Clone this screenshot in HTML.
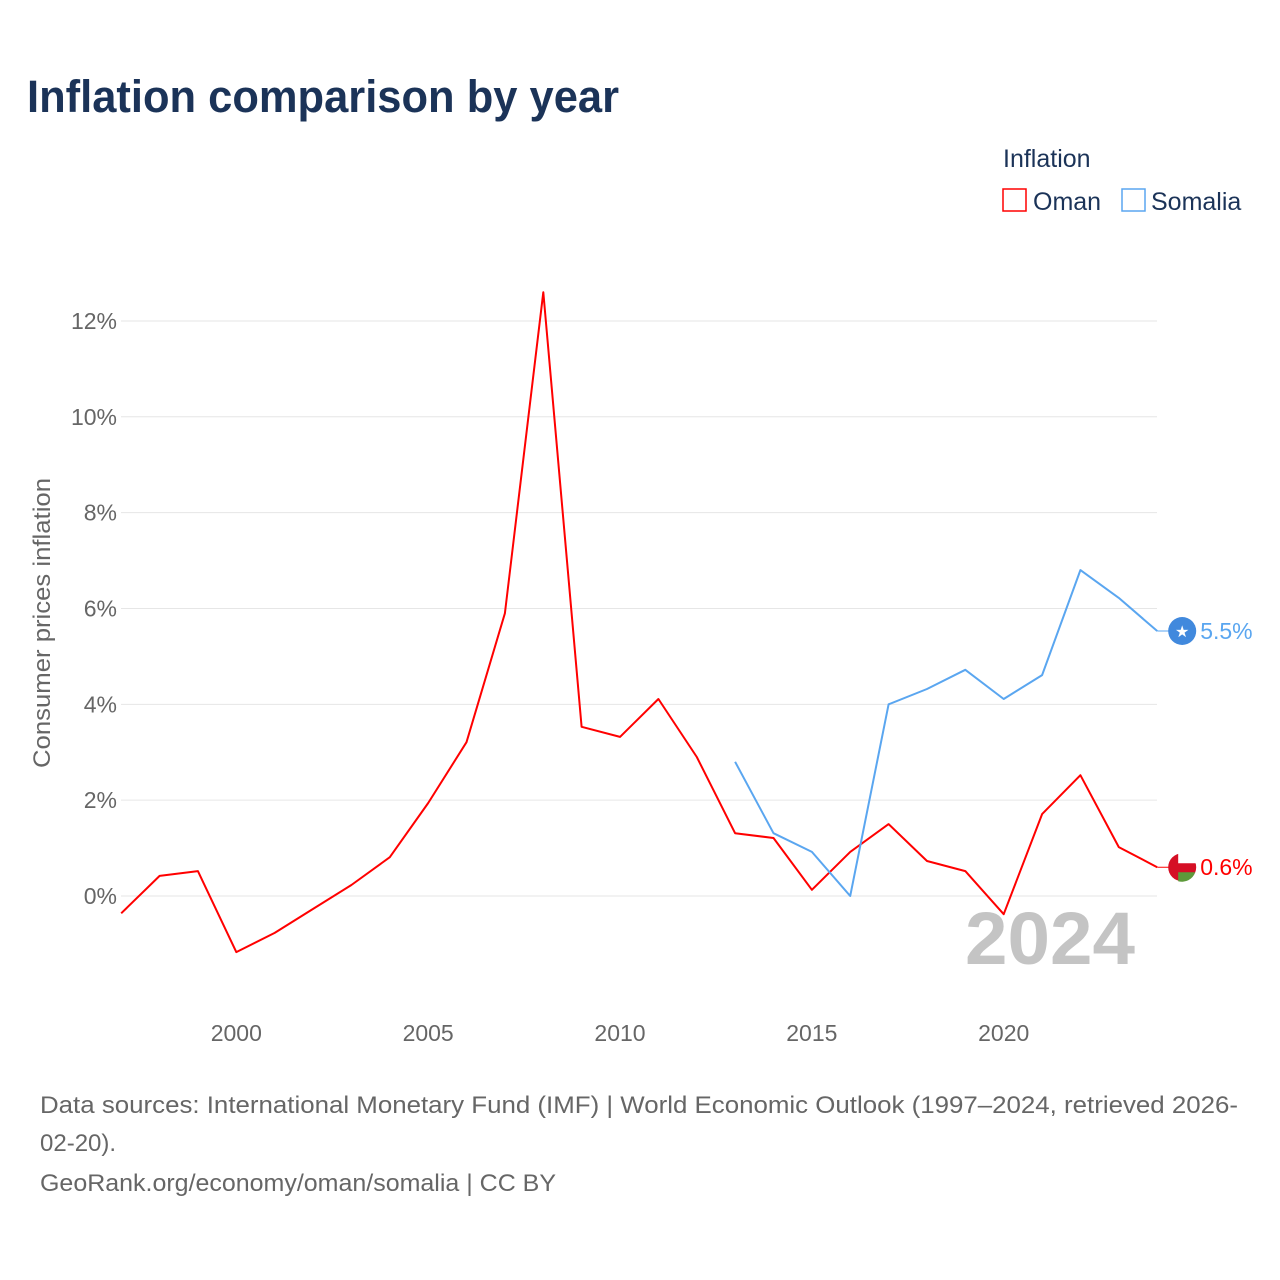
<!DOCTYPE html>
<html><head><meta charset="utf-8"><style>
body{margin:0;background:#fff;font-family:"Liberation Sans",sans-serif;}
#wrap{position:relative;width:1280px;height:1280px;overflow:hidden;}
</style></head><body>
<div id="wrap">
<svg id="chart" width="1280" height="1280" xmlns="http://www.w3.org/2000/svg">
<text x="27" y="112" font-size="45" font-weight="bold" fill="#1b3358" textLength="592" lengthAdjust="spacingAndGlyphs">Inflation comparison by year</text>
<g>
<text x="1003" y="167" font-size="25" fill="#1b3358">Inflation</text>
<rect x="1003" y="189" width="23" height="22" fill="none" stroke="#ff0000" stroke-width="1.5"/>
<text x="1033" y="210" font-size="25" fill="#1b3358">Oman</text>
<rect x="1122" y="189" width="23" height="22" fill="none" stroke="#5aa6f0" stroke-width="1.5"/>
<text x="1151" y="210" font-size="25" fill="#1b3358">Somalia</text>
</g>
<g id="grid"></g>
<g id="yticks"></g>
<g id="xticks"></g>
<text transform="translate(50,623) rotate(-90)" text-anchor="middle" font-size="24" fill="#666" textLength="290" lengthAdjust="spacingAndGlyphs">Consumer prices inflation</text>
<text x="1135" y="964" text-anchor="end" font-size="74" font-weight="bold" fill="#c4c4c4" textLength="170" lengthAdjust="spacingAndGlyphs">2024</text>
<g id="series"></g>
<text x="40" y="1113" font-size="24" fill="#666" textLength="1198" lengthAdjust="spacingAndGlyphs">Data sources: International Monetary Fund (IMF) | World Economic Outlook (1997–2024, retrieved 2026-</text>
<text x="40" y="1151" font-size="24" fill="#666">02-20).</text>
<text x="40" y="1191" font-size="24" fill="#666" textLength="516" lengthAdjust="spacingAndGlyphs">GeoRank.org/economy/oman/somalia | CC BY</text>
</svg>
</div>
<script>
const years = [1997,1998,1999,2000,2001,2002,2003,2004,2005,2006,2007,2008,2009,2010,2011,2012,2013,2014,2015,2016,2017,2018,2019,2020,2021,2022,2023,2024];
const omanValues = [-0.36,0.42,0.52,-1.17,-0.77,-0.27,0.23,0.81,1.94,3.21,5.9,12.6,3.53,3.32,4.11,2.9,1.31,1.21,0.13,0.92,1.5,0.73,0.52,-0.38,1.71,2.52,1.02,0.6];
const somaliaYears = [2013,2014,2015,2016,2017,2018,2019,2020,2021,2022,2023,2024];
const somaliaValues = [2.8,1.31,0.92,0,4.0,4.32,4.72,4.11,4.61,6.8,6.22,5.53];
const yTicks = [0,2,4,6,8,10,12];
const xTicks = [2000,2005,2010,2015,2020];
const NS="http://www.w3.org/2000/svg";
function xs(y){return 121.2+(y-1997)*38.37;}
function ys(v){return 896-v*47.92;}
function mk(tag,attrs,parent){const e=document.createElementNS(NS,tag);for(const k in attrs)e.setAttribute(k,attrs[k]);parent.appendChild(e);return e;}
const grid=document.getElementById('grid'),yt=document.getElementById('yticks'),xt=document.getElementById('xticks'),ser=document.getElementById('series');
yTicks.forEach(v=>{
 const l=mk('line',{x1:121,x2:1157,y1:ys(v),y2:ys(v),stroke:'#e6e6e6','stroke-width':1},grid);
 
 
 const t=mk('text',{x:117,y:ys(v)+8,'text-anchor':'end','font-size':23,fill:'#666'},yt);
 t.textContent=v+'%';
 
 
});
xTicks.forEach(y=>{
 const t=mk('text',{x:xs(y),y:1041,'text-anchor':'middle','font-size':23,fill:'#666'},xt);
 t.textContent=y;
 
 
});
function line(xv,vals,color,name,markColor){
 const d=vals.map((v,i)=>(i?'L':'M')+xs(xv[i]).toFixed(1)+','+ys(v).toFixed(1)).join(' ');
 const p=mk('path',{d:d,fill:'none',stroke:color,'stroke-width':2,'stroke-linejoin':'round'},ser);
 
 
 const lx=xs(xv[xv.length-1]),ly=ys(vals[vals.length-1]);
 const c=mk('line',{x1:lx,y1:ly,x2:lx+25,y2:ly,stroke:color,'stroke-width':1},ser);
 
 
 const m=mk('circle',{cx:lx+25,cy:ly,r:14,fill:markColor},ser);
 
 
 const t=mk('text',{x:lx+43,y:ly+8,'font-size':23,fill:color},ser);
 t.textContent=vals[vals.length-1].toFixed(1)+'%';
 
 
 return [lx+25,ly];
}
const o=line(years,omanValues,'#ff0000','oman','#d50f25');
const ow=mk('path',{d:`M${o[0]-4},${o[1]-14} A14,14 0 0 1 ${o[0]+14},${o[1]-4} L${o[0]-4},${o[1]-4} Z`,fill:'#fff'},ser);


const og=mk('path',{d:`M${o[0]-4},${o[1]+5} L${o[0]+13},${o[1]+5} A14,14 0 0 1 ${o[0]-4},${o[1]+14} Z`,fill:'#5d9a3a'},ser);


const s=line(somaliaYears,somaliaValues,'#5aa6f0','somalia','#4189dd');
const st=mk('text',{x:s[0],y:s[1]+6,'text-anchor':'middle','font-size':16,fill:'#fff'},ser);
st.textContent='★';


</script>
</body></html>
